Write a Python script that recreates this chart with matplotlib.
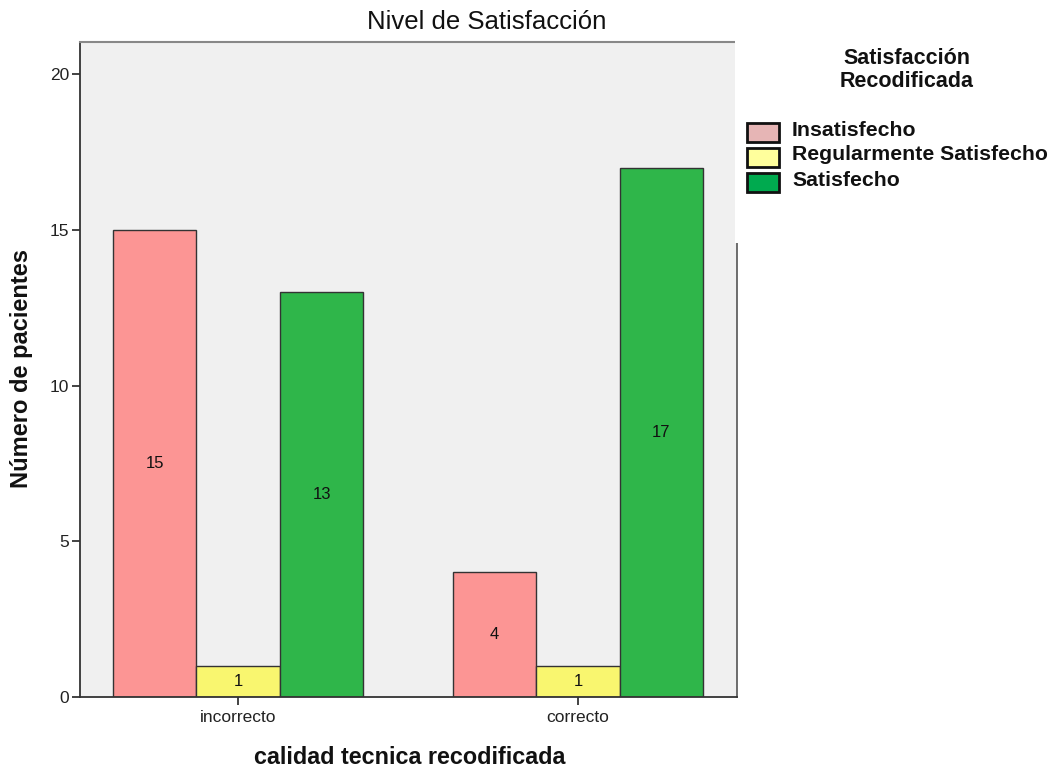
import numpy as np
import matplotlib.pyplot as plt
from matplotlib.patches import Rectangle

plt.rcParams['font.family'] = ['Liberation Sans', 'DejaVu Sans']

# data
categories = ['incorrecto', 'correcto']
series = ['Insatisfecho', 'Regularmente Satisfecho', 'Satisfecho']
values = {
    'Insatisfecho': [15, 4],
    'Regularmente Satisfecho': [1, 1],
    'Satisfecho': [13, 17],
}
bar_colors = ['#FC9594', '#F9F66F', '#2FB64A']
legend_colors = ['#E6B5B5', '#FFFF9C', '#00AA4F']

W, H = 1054, 768
fig = plt.figure(figsize=(W / 100, H / 100), dpi=100)
ax = fig.add_axes([80 / W, 71 / H, 657 / W, 655 / H])
ax.set_facecolor('#F0F0F0')

x = np.arange(len(categories))
width = 0.2456
for i, name in enumerate(series):
    pos = x + (i - 1) * width
    bars = ax.bar(pos, values[name], width=width, color=bar_colors[i],
                  edgecolor='#333333', linewidth=1.0, zorder=2)
    for b, v in zip(bars, values[name]):
        ax.text(b.get_x() + b.get_width() / 2, v / 2, str(v),
                ha='center', va='center', fontsize=12, color='#111111', zorder=3)

ax.set_xlim(-0.465, 1.468)
ax.set_ylim(0, 21.03)
ax.set_yticks([0, 5, 10, 15, 20])
ax.set_xticks(x)
ax.set_xticklabels(categories)
ax.tick_params(axis='both', labelsize=12.5, colors='#222222', length=6, width=1.2)
ax.tick_params(axis='x', pad=3)
ax.tick_params(axis='y', pad=2)
for side in ['left', 'bottom']:
    ax.spines[side].set_color('#333333')
    ax.spines[side].set_linewidth(1.3)
ax.spines['top'].set_color('#888888')
ax.spines['top'].set_linewidth(1.5)
ax.spines['right'].set_color('#555555')
ax.spines['right'].set_linewidth(1.2)

# white box behind the legend covers the upper right frame
fig.patches.append(Rectangle((735 / W, 1 - 243 / H), 319 / W, 243 / H - 1 / H,
                             transform=fig.transFigure, facecolor='white',
                             edgecolor='none', zorder=5))

fig.text(487 / W, 1 - 22 / H, 'Nivel de Satisfacción', ha='center', va='center',
         fontsize=18.5, color='#111111')
fig.text(410 / W, 1 - 757 / H, 'calidad tecnica recodificada', ha='center',
         va='center', fontsize=16.8, fontweight='bold', color='#111111')
fig.text(22 / W, 1 - 369 / H, 'Número de pacientes', ha='center', va='center',
         rotation=90, fontsize=17, fontweight='bold', color='#111111')

# legend
fig.text(907 / W, 1 - 70 / H, 'Satisfacción\nRecodificada', ha='center',
         va='center', fontsize=15.5, fontweight='bold', color='#111111',
         linespacing=1.1, zorder=6)
row_y = [130, 155, 180]
for name, c, ry in zip(series, legend_colors, row_y):
    fig.patches.append(Rectangle((747 / W, 1 - (ry + 12) / H), 32 / W, 19 / H,
                                 transform=fig.transFigure, facecolor=c,
                                 edgecolor='#111111', linewidth=2, zorder=6))
    fig.text(792 / W, 1 - ry / H, name, ha='left', va='center', fontsize=15.3,
             fontweight='bold', color='#111111', zorder=6)

fig.savefig('out.png', dpi=100, facecolor='white')
